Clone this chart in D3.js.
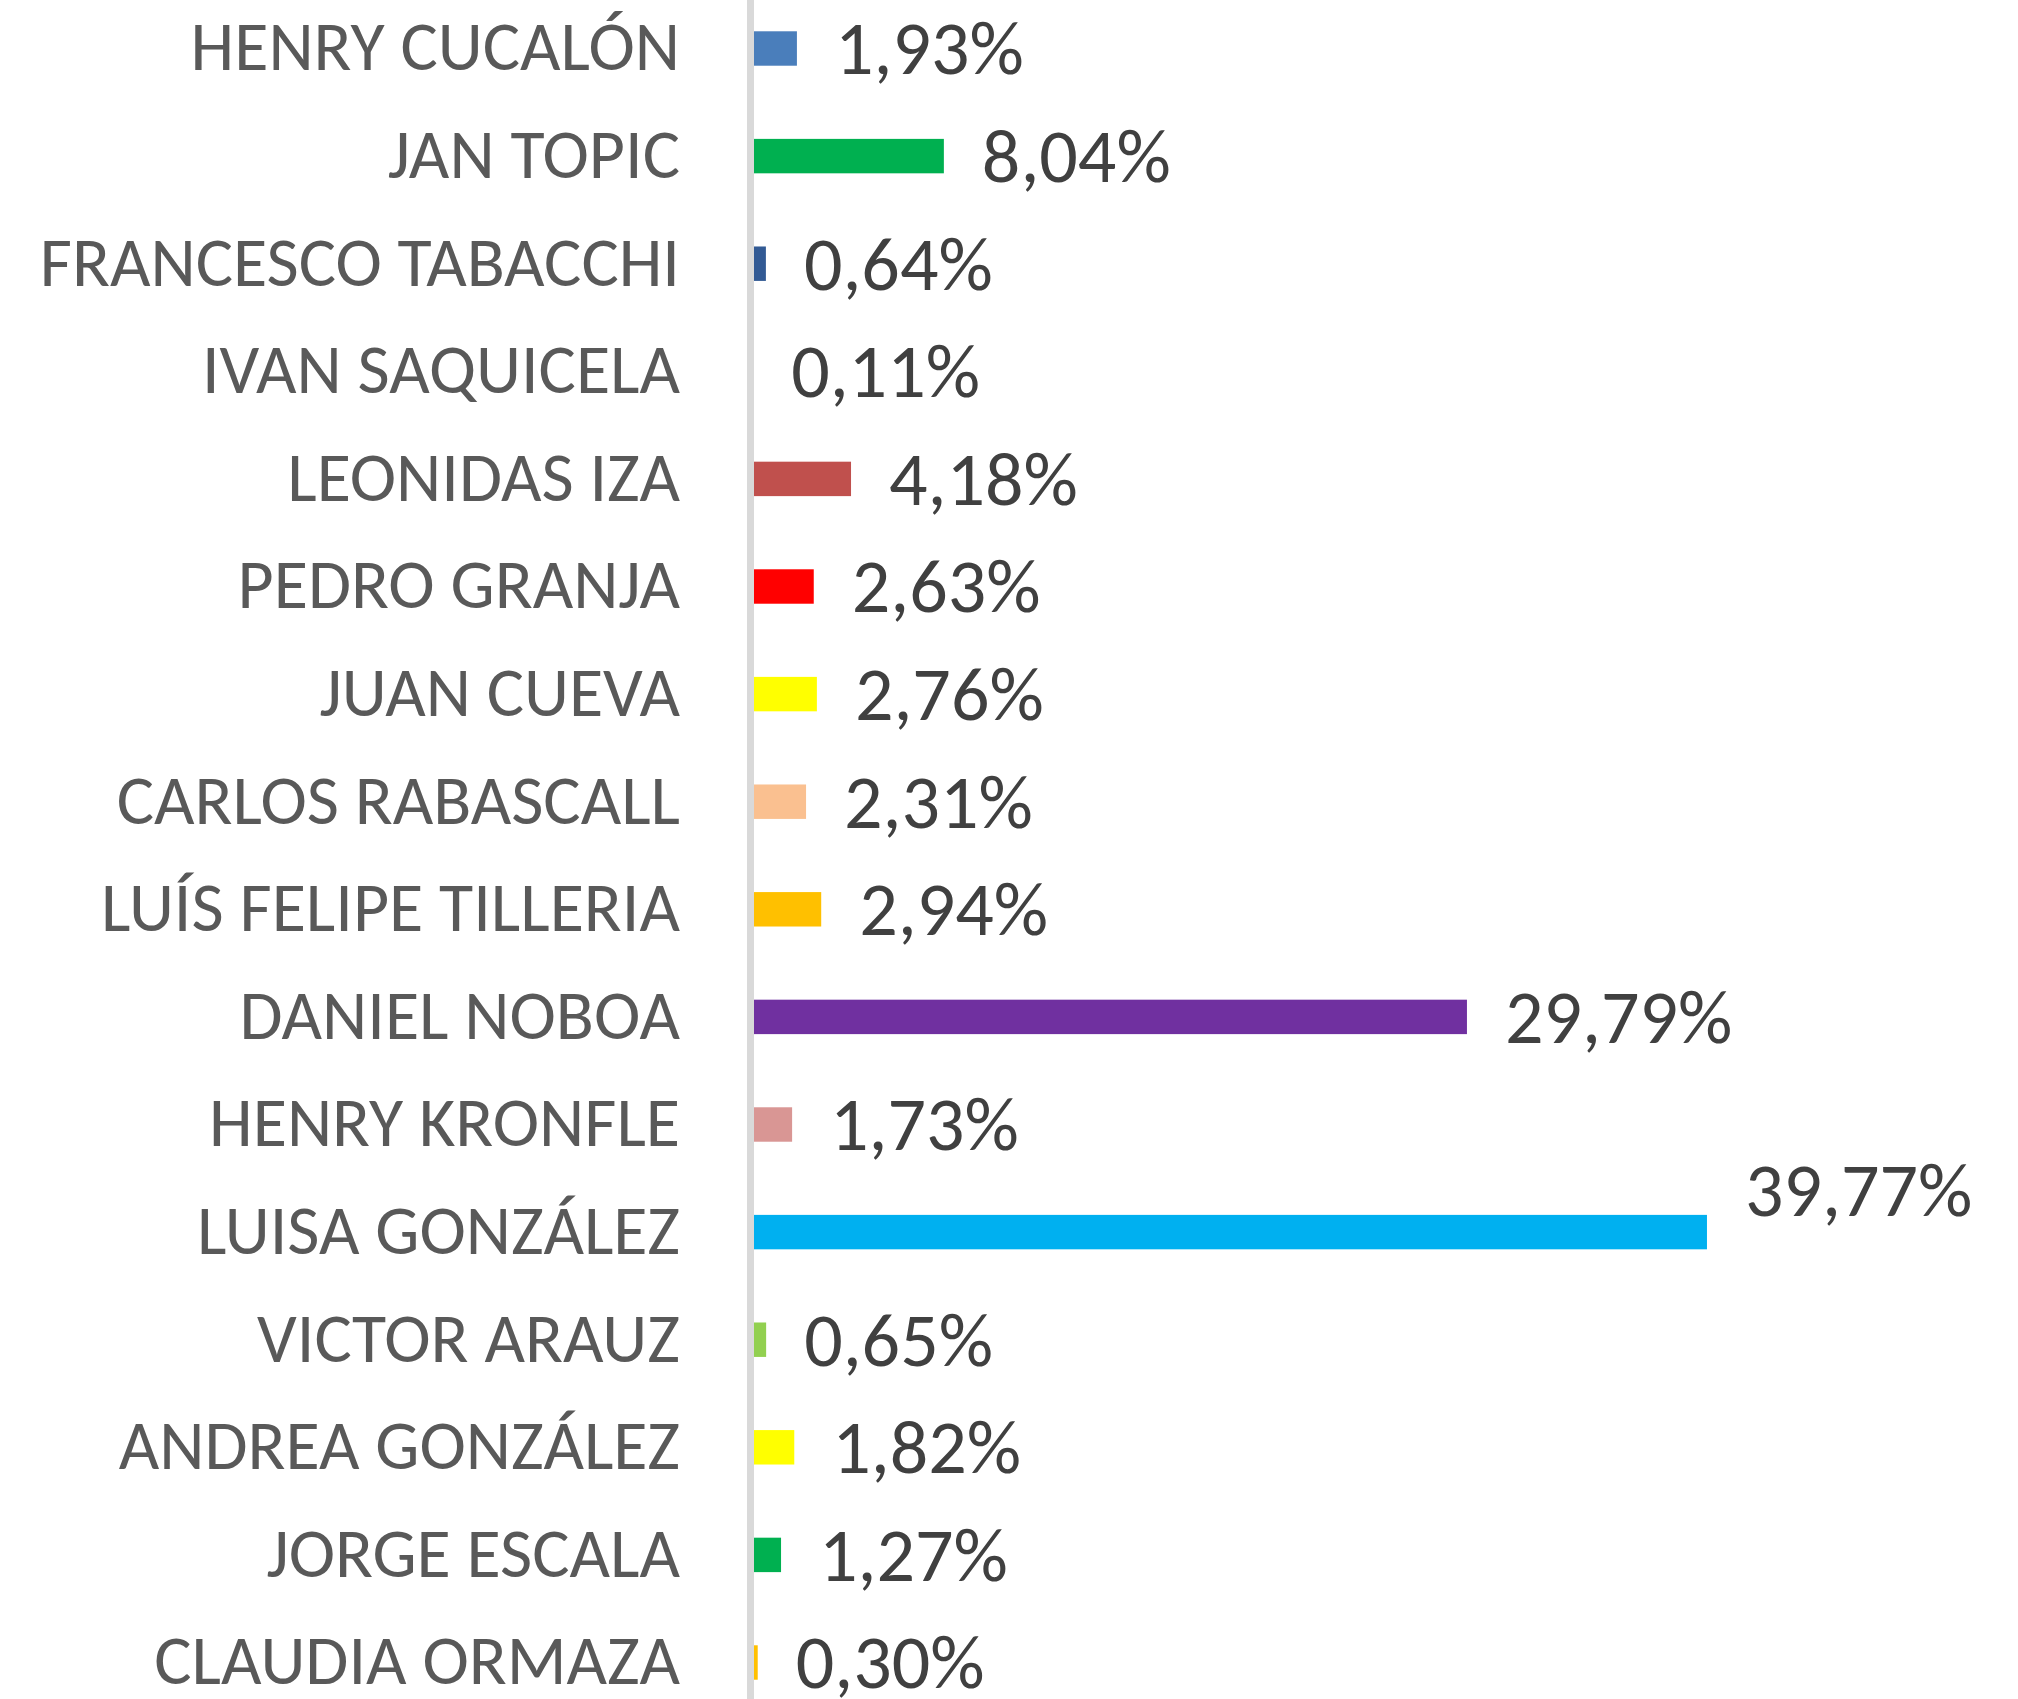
<!DOCTYPE html>
<html lang="es">
<head>
    <meta charset="utf-8">
    <title>Resultados</title>
    <script type="text/javascript" src="https://d3js.org/d3.v7.min.js"></script>
    <style>
     body { margin: 0; background: #ffffff; }
     svg { display: block; }
     .cat text { font-family: Carlito, Calibri, Lato, sans-serif; fill: #595959; }
     .vals text { font-family: Carlito, Calibri, Lato, sans-serif; fill: #404040; }
    </style>
</head>
<body>
    <div id="bar-chart"></div>
    <script type="text/javascript">
        const candidates = ["HENRY CUCALÓN", "JAN TOPIC", "FRANCESCO TABACCHI", "IVAN SAQUICELA",
            "LEONIDAS IZA", "PEDRO GRANJA", "JUAN CUEVA", "CARLOS RABASCALL", "LUÍS FELIPE TILLERIA",
            "DANIEL NOBOA", "HENRY KRONFLE", "LUISA GONZÁLEZ", "VICTOR ARAUZ", "ANDREA GONZÁLEZ",
            "JORGE ESCALA", "CLAUDIA ORMAZA"];
        const votes = [1.93, 8.04, 0.64, 0.11, 4.18, 2.63, 2.76, 2.31, 2.94, 29.79, 1.73, 39.77, 0.65, 1.82, 1.27, 0.30];
        const barColors = ["#4a7ebb", "#00b050", "#325a94", "#ffffff", "#c0504d", "#ff0000", "#ffff00", "#fac090",
            "#ffc000", "#7030a0", "#d99694", "#00b0f0", "#92d050", "#ffff00", "#00b050", "#ffc000"];

        const width = 2018;
        const height = 1699;
        const axisX = 750.5;
        const labelRight = 680;

        const data = candidates.map((name, i) => ({name: name, value: votes[i], color: barColors[i]}));

        const esLocale = d3.formatLocale({decimal: ",", thousands: ".", grouping: [3], currency: ["$", ""]});
        const fmt = esLocale.format(".2f");

        const svg = d3.select("#bar-chart")
            .append("svg")
            .attr("width", width)
            .attr("height", height);

        const xScale = d3.scaleLinear()
            .domain([0, 40])
            .range([axisX, axisX + 962]);

        const yScale = d3.scaleBand()
            .domain(candidates)
            .range([-5.3, -5.3 + 16 * 107.6])
            .paddingInner(0.68)
            .paddingOuter(0.34);

        const yMid = d => yScale(d) + yScale.bandwidth() / 2;
        const maxValue = d3.max(votes);

        // bars
        svg.append("g")
                .attr("class", "bars")
            .selectAll("rect")
            .data(data)
            .enter()
            .append("rect")
                .attr("x", xScale(0))
                .attr("y", d => yScale(d.name))
                .attr("width", d => xScale(d.value) - xScale(0))
                .attr("height", yScale.bandwidth())
                .attr("fill", d => d.color);

        // vertical axis line
        svg.append("line")
            .attr("x1", axisX).attr("x2", axisX)
            .attr("y1", 0).attr("y2", height)
            .attr("stroke", "#d9d9d9")
            .attr("stroke-width", 7);

        // category labels
        svg.append("g")
                .attr("class", "cat")
            .selectAll("text")
            .data(data)
            .enter()
            .append("text")
                .attr("x", labelRight)
                .attr("y", d => yMid(d.name) - 2)
                .attr("text-anchor", "end")
                .attr("dy", "0.34em")
                .style("font-size", "70px")
                .text(d => d.name);

        // value labels (largest one sits above its bar)
        svg.append("g")
                .attr("class", "vals")
            .selectAll("text")
            .data(data)
            .enter()
            .append("text")
                .attr("x", d => xScale(d.value) + 38)
                .attr("y", d => yMid(d.name) - (d.value === maxValue ? 42 : 0))
                .attr("dy", "0.34em")
                .style("font-size", "76px")
                .text(d => fmt(d.value) + "%");
    </script>
</body>
</html>
